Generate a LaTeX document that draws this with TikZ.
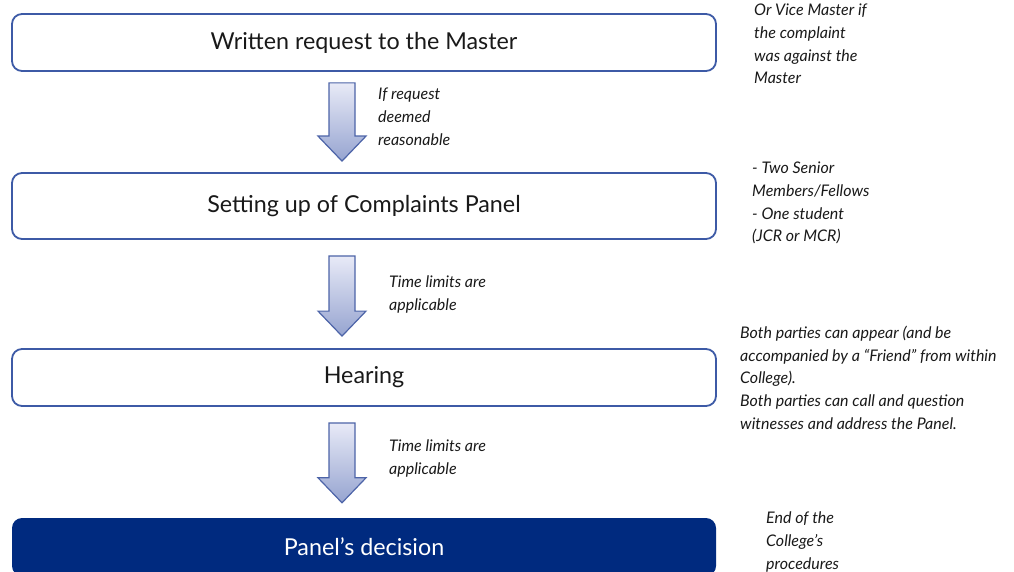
\documentclass[tikz,border=0pt]{standalone}
\usepackage{fontspec}
\setmainfont{Lato}
\usetikzlibrary{calc}
\definecolor{boxblue}{RGB}{61,90,166}
\definecolor{navyfill}{RGB}{0,42,127}
\definecolor{arrowedge}{RGB}{77,100,168}
\definecolor{arrowtop}{RGB}{232,234,247}
\definecolor{arrowbot}{RGB}{150,164,208}
\definecolor{txt}{RGB}{25,25,25}
\newcommand\blockarr[2]{%
  \draw[blockarrow] let \p1=(#1), \p2=(#2) in
    (\x1-13pt,\y1) -- (\x1+13pt,\y1) -- (\x1+13pt,\y2+25pt) -- (\x1+24pt,\y2+25pt)
    -- (\x2,\y2) -- (\x1-24pt,\y2+25pt) -- (\x1-13pt,\y2+25pt) -- cycle;}
\begin{document}
\begin{tikzpicture}[x=1pt,y=-1pt,
  stepbox/.style={draw=boxblue, line width=1.8pt, rounded corners=10pt,
    minimum width=704pt, inner sep=0pt, font=\fontsize{23.3}{28}\selectfont, text=txt},
  finalbox/.style={fill=navyfill, draw=none, rounded corners=10pt,
    minimum width=704pt, inner sep=0pt, font=\fontsize{23.3}{28}\selectfont, text=white},
  note/.style={anchor=north west, align=left, inner sep=0pt,
    font=\fontsize{16}{22.7}\itshape\selectfont, text=txt},
  blockarrow/.style={top color=arrowtop, bottom color=arrowbot, draw=arrowedge,
    line width=1.2pt, line join=miter},
]
\useasboundingbox (0,0) rectangle (1014,572);

\node[stepbox, minimum height=57pt] (b1) at (364,42.5) {Written request to the Master};
\node[stepbox, minimum height=66pt] (b2) at (364,206) {Setting up of Complaints Panel};
\node[stepbox, minimum height=57pt] (b3) at (364,377.5) {Hearing};
\node[finalbox, minimum height=58pt] (b4) at (364,547) {Panel’s decision};

\coordinate (a1s) at ($(b1.south)+(-22,11)$);
\coordinate (a1e) at ($(b2.north)+(-22,-11)$);
\coordinate (a2s) at ($(b2.south)+(-22,16)$);
\coordinate (a2e) at ($(b3.north)+(-22,-12)$);
\coordinate (a3s) at ($(b3.south)+(-22,16)$);
\coordinate (a3e) at ($(b4.north)+(-22,-15)$);
\blockarr{a1s}{a1e}
\blockarr{a2s}{a2e}
\blockarr{a3s}{a3e}

\node[note] (n1) at (754,4) {Or Vice Master if\\the complaint\\was against the\\Master};
\node[note] (n2) at (378,88) {If request\\deemed\\reasonable};
\node[note] (n3) at (752,162) {- Two Senior\\Members/Fellows\\- One student\\(JCR or MCR)};
\node[note] (n4) at (389,276) {Time limits are\\applicable};
\node[note] (n5) at (389,440) {Time limits are\\applicable};
\node[note] (n6) at (740,326) {Both parties can appear (and be\\accompanied by a “Friend” from within\\College).\\Both parties can call and question\\witnesses and address the Panel.};
\node[note] (n7) at (766,512) {End of the\\College’s\\procedures};
\end{tikzpicture}
\end{document}
